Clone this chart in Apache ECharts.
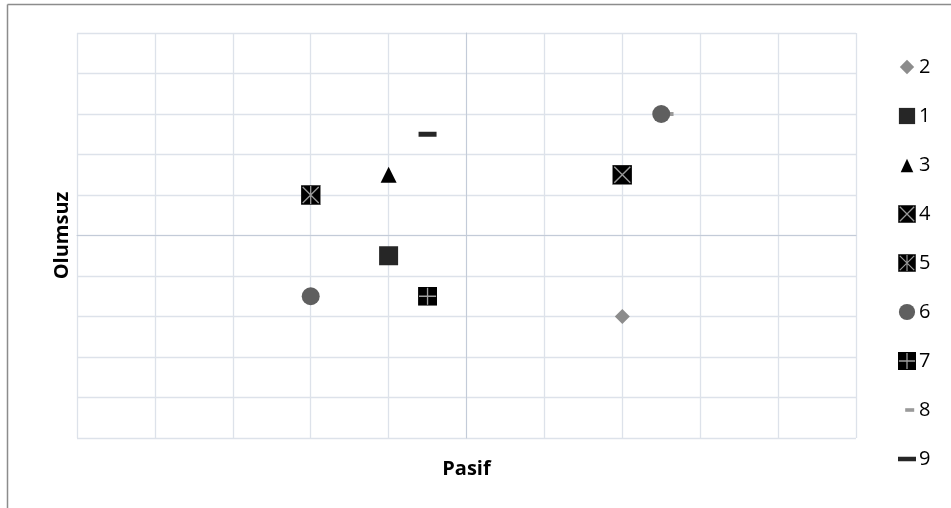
<!DOCTYPE html>
<html>
<head>
<meta charset="utf-8">
<script src="https://cdn.jsdelivr.net/npm/echarts@6/dist/echarts.min.js"></script>
<style>html,body{margin:0;padding:0;background:#fff}#c{width:951px;height:508px}</style>
</head>
<body>
<div id="c"></div>
<script>
// Data (x: Pasif, y: Olumsuz)
const seriesNames = ['2','1','3','4','5','6','7','8','9'];
const s2 = [[2, -2]];
const s1 = [[-1, -0.5]];
const s3 = [[-1, 1.5]];
const s4 = [[2, 1.5]];
const s5 = [[-2, 1]];
const s6 = [[-2, -1.5], [2.5, 3]];
const s7 = [[-0.5, -1.5]];
const s8 = [[2.6, 3]];
const s9 = [[-0.5, 2.5]];
const xTitle = 'Pasif';
const yTitle = 'Olumsuz';

function svg(s){return 'image://data:image/svg+xml;charset=utf-8,' + encodeURIComponent(s);}
const icon4 = svg("<svg xmlns='http://www.w3.org/2000/svg' width='20' height='20' viewBox='0 0 20 20'><rect x='0' y='0' width='20' height='20' fill='#000' stroke='#8a8a8a' stroke-width='1'/><path d='M2 2L18 18M18 2L2 18' stroke='#9a9a9a' stroke-width='1.4'/></svg>");
const icon5 = svg("<svg xmlns='http://www.w3.org/2000/svg' width='20' height='20' viewBox='0 0 20 20'><rect x='0' y='0' width='20' height='20' fill='#000' stroke='#8a8a8a' stroke-width='1'/><path d='M2 2L18 18M18 2L2 18M10 1L10 19' stroke='#9a9a9a' stroke-width='1.3'/></svg>");
const icon7 = svg("<svg xmlns='http://www.w3.org/2000/svg' width='20' height='20' viewBox='0 0 20 20'><rect x='0' y='0' width='20' height='20' fill='#000'/><path d='M10 1L10 19M1 10L19 10' stroke='#a0a0a0' stroke-width='1.4'/></svg>");
const icon8 = svg("<svg xmlns='http://www.w3.org/2000/svg' width='20' height='20' viewBox='0 0 20 20'><rect x='8' y='8' width='10' height='4' fill='#9a9a9a'/></svg>");
const icon9 = svg("<svg xmlns='http://www.w3.org/2000/svg' width='20' height='20' viewBox='0 0 20 20'><rect x='0' y='7.5' width='20' height='5' fill='#262626'/></svg>");
const iconD = svg("<svg xmlns='http://www.w3.org/2000/svg' width='20' height='20' viewBox='0 0 20 20'><path d='M10 2L18 10L10 18L2 10Z' fill='#8c8c8c'/></svg>");
const iconS = svg("<svg xmlns='http://www.w3.org/2000/svg' width='20' height='20' viewBox='0 0 20 20'><rect x='1' y='1' width='18' height='18' fill='#262626'/></svg>");
const iconT = svg("<svg xmlns='http://www.w3.org/2000/svg' width='20' height='20' viewBox='0 0 20 20'><path d='M10 3L17 18L3 18Z' fill='#000'/></svg>");
const iconC = svg("<svg xmlns='http://www.w3.org/2000/svg' width='20' height='20' viewBox='0 0 20 20'><circle cx='10' cy='10' r='9' fill='#5f5f5f'/></svg>");

const chart = echarts.init(document.getElementById('c'));
const font = "'Open Sans', 'Liberation Sans', sans-serif";
chart.setOption({
  animation: false,
  backgroundColor: '#fff',
  textStyle: {fontFamily: font},
  grid: {left: 77, top: 33, width: 779, height: 405},
  xAxis: {
    type: 'value', min: -5, max: 5, interval: 1,
    name: xTitle, nameLocation: 'middle', nameGap: 21,
    nameTextStyle: {fontSize: 20, fontWeight: 'bold', color: '#000', fontFamily: font},
    axisLine: {onZero: true, lineStyle: {color: '#c3cbd8', width: 1}},
    axisTick: {show: false}, axisLabel: {show: false},
    splitLine: {lineStyle: {color: '#dde2ea', width: 1.3}}
  },
  yAxis: {
    type: 'value', min: -5, max: 5, interval: 1,
    name: yTitle, nameLocation: 'middle', nameGap: 5, nameRotate: 90,
    nameTextStyle: {fontSize: 20, fontWeight: 'bold', color: '#000', fontFamily: font},
    axisLine: {onZero: true, lineStyle: {color: '#c3cbd8', width: 1}},
    axisTick: {show: false}, axisLabel: {show: false},
    splitLine: {lineStyle: {color: '#dde2ea', width: 1.3}}
  },
  legend: {
    orient: 'vertical', left: 893, top: 52,
    itemWidth: 18, itemHeight: 18, itemGap: 29,
    textStyle: {fontSize: 20, color: '#000', fontFamily: font, padding: [0,0,0,-2]},
    data: [
      {name: '2', icon: iconD}, {name: '1', icon: iconS}, {name: '3', icon: iconT},
      {name: '4', icon: icon4}, {name: '5', icon: icon5}, {name: '6', icon: iconC},
      {name: '7', icon: icon7}, {name: '8', icon: icon8}, {name: '9', icon: icon9}
    ]
  },
  graphic: [
    {type: 'line', shape: {x1: 7.5, y1: 4.5, x2: 951, y2: 4.5}, style: {stroke: '#8c8c8c', lineWidth: 1.5}, silent: true},
    {type: 'line', shape: {x1: 7.5, y1: 4.5, x2: 7.5, y2: 508}, style: {stroke: '#8c8c8c', lineWidth: 1.5}, silent: true}
  ],
  series: [
    {name: '2', type: 'scatter', data: s2, symbol: 'diamond', symbolSize: 15, itemStyle: {color: '#8c8c8c', opacity: 1}},
    {name: '1', type: 'scatter', data: s1, symbol: 'rect', symbolSize: 19, itemStyle: {color: '#262626', opacity: 1}},
    {name: '3', type: 'scatter', data: s3, symbol: 'triangle', symbolSize: 16, itemStyle: {color: '#000', opacity: 1}},
    {name: '4', type: 'scatter', data: s4, symbol: icon4, symbolSize: 20, itemStyle: {color: '#000', opacity: 1}},
    {name: '5', type: 'scatter', data: s5, symbol: icon5, symbolSize: 20, itemStyle: {color: '#000', opacity: 1}},
    {name: '6', type: 'scatter', data: s6, symbol: 'circle', symbolSize: 18, z: 5, itemStyle: {color: '#5f5f5f', opacity: 1}},
    {name: '7', type: 'scatter', data: s7, symbol: icon7, symbolSize: 19, itemStyle: {color: '#000', opacity: 1}},
    {name: '8', type: 'scatter', data: s8, symbol: 'rect', symbolSize: [9, 4], z: 1, itemStyle: {color: '#9a9a9a', opacity: 1}},
    {name: '9', type: 'scatter', data: s9, symbol: 'rect', symbolSize: [18, 5], itemStyle: {color: '#262626', opacity: 1}}
  ]
});
</script>
</body>
</html>
